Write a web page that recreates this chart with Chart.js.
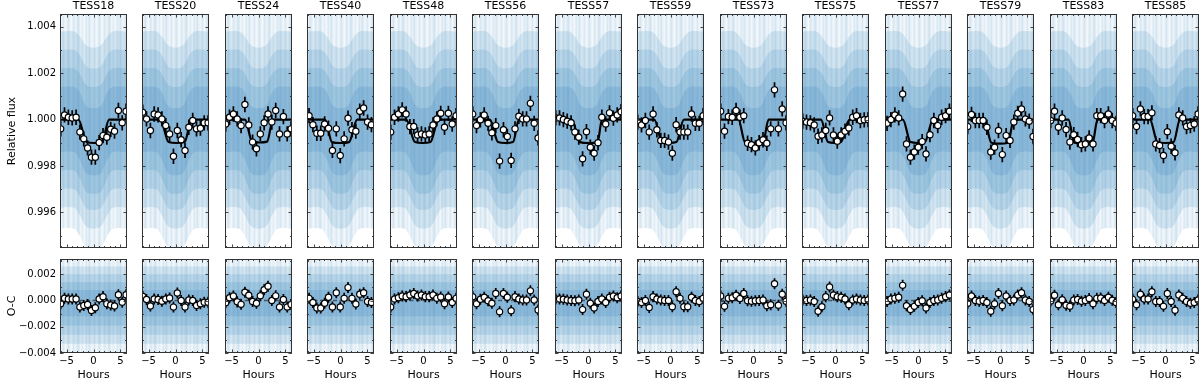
<!DOCTYPE html>
<html>
<head>
<meta charset="utf-8">
<script src="https://cdn.jsdelivr.net/npm/chart.js@4.4.1/dist/chart.umd.min.js"></script>
<style>
html, body { margin: 0; padding: 0; background: #fff; }
#wrap { position: relative; width: 1200px; height: 381px; overflow: hidden; }
#wrap canvas { position: absolute; }
</style>
</head>
<body>
<div id="wrap"></div>
<script>
// bin centres in hours from mid-transit (most sectors have 18 bins, two have 17)
var binHours18 = [-6.1, -5.39, -4.67, -3.96, -3.24, -2.53, -1.81, -1.1, -0.38, 0.34, 1.05, 1.77, 2.48, 3.2, 3.91, 4.63, 5.34, 6.06];
var binHours17 = [-5.85, -5.13, -4.4, -3.68, -2.95, -2.23, -1.5, -0.78, -0.05, 0.68, 1.4, 2.13, 2.85, 3.58, 4.3, 5.03, 5.75];

// binned relative flux, in parts per thousand away from 1.000
var fluxTESS18 = [-0.40, 0.20, 0.10, 0.07, 0.10, -0.54, -0.83, -1.22, -1.62, -1.62, -0.99, -0.69, -0.76, -0.42, -0.50, 0.39, -0.14, 0.36];
var fluxTESS20 = [0.32, 0.03, -0.47, 0.24, 0.20, 0.03, -0.26, -0.62, -1.58, -0.47, -0.87, -1.33, -0.33, -0.04, -0.40, -0.37, -0.14, -0.14];
var fluxTESS24 = [-0.19, 0.10, 0.24, 0.03, -0.26, 0.65, -0.23, -0.97, -1.26, -0.62, -0.14, 0.24, -0.11, 0.39, -0.62, 0.13, -0.62, -0.40];
var fluxTESS40 = [0.17, -0.22, -0.59, -0.59, -0.19, -0.37, -1.33, -0.40, -1.55, -0.83, 0.06, -0.44, -0.50, 0.36, 0.50, -0.11, -0.22];
var fluxTESS48 = [-0.54, 0.10, 0.24, 0.42, 0.24, -0.30, -0.30, -0.66, -0.62, -0.66, -0.62, -0.23, 0.03, 0.27, -0.33, 0.27, -0.19, 0.17];
var fluxTESS56 = [0.24, -0.26, -0.01, 0.20, -0.16, -0.57, -0.26, -1.79, -0.44, -0.73, -1.76, -0.40, 0.14, 0.03, 0.03, 0.70, -0.16, -0.79];
var fluxTESS57 = [0.07, 0.07, 0.00, -0.07, -0.14, -0.54, -0.76, -1.69, -0.52, -1.19, -1.45, -1.00, 0.10, -0.19, 0.29, 0.06, 0.20, 0.34];
var fluxTESS59 = [-0.11, -0.23, -0.04, -0.54, 0.24, -0.44, -0.90, -0.90, -0.97, -1.45, -0.22, -0.54, -0.54, -0.54, 0.24, -0.16, -0.16, 0.17];
var fluxTESS73 = [0.36, -0.50, 0.13, 0.10, 0.39, 0.10, 0.17, -1.02, -1.08, -1.22, -1.00, -0.87, -1.02, -0.40, 1.28, -0.40, 0.46, -0.14];
var fluxTESS75 = [-0.07, -0.11, -0.14, -0.23, -0.72, -0.66, -0.47, 0.07, -0.66, -0.93, -0.66, -0.50, -0.36, 0.10, 0.17, -0.04, -0.01, 0.00];
var fluxTESS77 = [-0.16, 0.00, 0.20, 0.07, 1.10, -1.05, -1.62, -1.40, -1.19, -0.95, -1.48, -0.65, -0.04, -0.26, 0.10, 0.17, 0.36];
var fluxTESS79 = [-0.30, 0.22, -0.04, -0.04, -0.04, -0.33, -1.40, -1.19, -0.47, -1.51, -0.69, -0.90, -0.11, 0.27, 0.46, 0.03, -0.07, -0.73];
var fluxTESS83 = [-0.04, 0.36, -0.33, 0.07, -0.43, -0.97, -0.65, -0.86, -1.08, -1.05, -0.79, -1.05, 0.17, 0.17, -0.04, 0.24, -0.04, -0.16];
var fluxTESS85 = [0.17, -0.30, 0.46, 0.13, 0.13, 0.29, -1.05, -1.12, -1.55, -0.52, -1.15, -1.43, 0.20, 0.07, -0.30, -0.26, -0.19, 0.24];

// binned residuals (O-C), parts per thousand
var residTESS18 = [-0.25, 0.18, 0.12, 0.12, 0.12, -0.50, -0.37, -0.30, -0.75, -0.55, 0.12, 0.30, -0.25, -0.33, -0.42, 0.45, -0.12, 0.45];
var residTESS20 = [0.33, 0.08, -0.42, 0.12, 0.08, -0.05, 0.12, 0.20, -0.50, 0.58, 0.00, -0.50, 0.05, 0.00, -0.37, -0.25, -0.12, -0.12];
var residTESS24 = [-0.17, 0.21, 0.35, -0.10, -0.29, 0.63, 0.40, -0.07, -0.20, 0.36, 0.82, 1.10, 0.00, 0.36, -0.50, 0.08, -0.50, -0.30];
var residTESS40 = [0.17, -0.15, -0.57, -0.57, -0.20, 0.25, -0.49, 0.59, -0.49, 0.17, 0.99, 0.17, -0.27, 0.49, 0.59, -0.07, -0.15];
var residTESS48 = [-0.49, 0.12, 0.22, 0.35, 0.30, 0.42, 0.54, 0.35, 0.42, 0.30, 0.30, 0.42, 0.17, 0.27, -0.25, 0.27, -0.15, 0.17];
var residTESS56 = [0.30, -0.25, 0.10, 0.25, -0.02, -0.20, 0.54, -0.86, 0.54, 0.25, -0.77, 0.30, 0.12, 0.05, 0.05, 0.74, 0.05, -0.72];
var residTESS57 = [0.12, 0.12, 0.10, 0.05, 0.00, -0.02, 0.05, -0.69, 0.49, -0.20, -0.57, -0.07, 0.12, -0.15, 0.25, 0.35, 0.22, 0.35];
var residTESS59 = [-0.07, -0.15, 0.00, -0.52, 0.30, 0.12, 0.05, 0.00, 0.00, -0.47, 0.67, 0.17, -0.47, -0.47, 0.25, 0.00, -0.07, 0.17];
var residTESS73 = [0.35, -0.44, 0.17, 0.22, 0.40, 0.15, 0.54, -0.02, -0.05, -0.02, 0.00, 0.05, -0.40, -0.32, 1.28, -0.35, 0.49, -0.05];
var residTESS75 = [0.05, 0.00, 0.05, -0.07, -0.81, -0.47, 0.30, 1.04, 0.42, 0.30, 0.25, 0.12, -0.32, 0.05, 0.12, 0.05, 0.00, 0.05];
var residTESS77 = [-0.07, 0.12, 0.17, 0.25, 1.16, -0.40, -0.69, -0.44, -0.15, -0.02, -0.57, -0.15, 0.00, 0.05, 0.17, 0.30, 0.42];
var residTESS79 = [-0.20, 0.35, 0.00, -0.05, 0.00, -0.15, -0.81, -0.25, 0.54, -0.40, 0.35, 0.00, 0.05, 0.42, 0.60, 0.05, -0.07, -0.69];
var residTESS83 = [-0.04, 0.40, -0.32, 0.06, -0.36, -0.44, 0.05, 0.08, -0.05, 0.00, 0.15, -0.25, 0.17, 0.20, 0.00, 0.25, 0.02, -0.14];
var residTESS85 = [0.10, -0.32, 0.49, 0.12, 0.12, 0.67, -0.07, -0.07, -0.44, 0.54, -0.07, -0.74, 0.42, 0.17, -0.07, -0.20, -0.15, 0.05];

// transit model: [first contact, second, third, fourth (hours), depth (ppt)]
var modelTESS18 = [-2.8, -1.3, 1.6, 2.9, 0.97];
var modelTESS20 = [-2.8, -1.3, 1.7, 3.0, 0.97];
var modelTESS24 = [-2.5, -1.2, 1.6, 2.7, 0.95];
var modelTESS40 = [-2.9, -1.6, 1.6, 3.1, 0.97];
var modelTESS48 = [-3.2, -1.6, 1.3, 2.8, 0.97];
var modelTESS56 = [-2.9, -1.4, 1.4, 2.5, 0.97];
var modelTESS57 = [-3.1, -1.6, 1.7, 2.5, 0.97];
var modelTESS59 = [-3.0, -1.6, 1.1, 2.5, 0.97];
var modelTESS73 = [-2.8, -1.6, 1.8, 2.8, 0.97];
var modelTESS75 = [-2.7, -1.4, 1.0, 2.6, 0.97];
var modelTESS77 = [-2.9, -1.5, 1.2, 2.7, 0.97];
var modelTESS79 = [-3.0, -1.7, 1.4, 2.5, 1.00];
var modelTESS83 = [-2.8, -1.7, 1.7, 2.6, 1.00];
var modelTESS85 = [-2.9, -1.5, 1.5, 2.7, 0.97];

// error bar half-lengths (ppt)
var fluxErr = 0.33;
var residErr = 0.42;

// nested envelopes of the unbinned points (ppt), same for every sector
var cloudHours = [-6.23, -3.6, -2.6, -1.4, 0, 1.4, 2.6, 3.6, 6.23];
var fluxBandHi = [
    [4.6, 4.6, 4.6, 4.6, 4.6, 4.6, 4.6, 4.6, 4.6],
    [3.8, 3.8, 3.6, 3.2, 3.1, 3.2, 3.6, 3.8, 3.8],
    [3.0, 3.0, 2.8, 2.3, 2.2, 2.3, 2.8, 3.0, 3.0],
    [2.2, 2.2, 2.0, 1.5, 1.4, 1.5, 2.0, 2.2, 2.2],
    [1.4, 1.4, 1.2, 0.6, 0.5, 0.6, 1.2, 1.4, 1.4]
];
var fluxBandLo = [
    [-4.7, -4.7, -5.0, -5.5, -5.6, -5.5, -5.0, -4.7, -4.7],
    [-3.8, -3.8, -4.1, -4.6, -4.7, -4.6, -4.1, -3.8, -3.8],
    [-3.0, -3.0, -3.3, -3.8, -3.9, -3.8, -3.3, -3.0, -3.0],
    [-2.2, -2.2, -2.5, -3.1, -3.2, -3.1, -2.5, -2.2, -2.2],
    [-1.4, -1.4, -1.7, -2.3, -2.4, -2.3, -1.7, -1.4, -1.4]
];
var residBandHi = [3.2, 2.6, 2.0, 1.4, 0.8];
var residBandLo = [-4.0, -3.3, -2.6, -1.9, -1.2];
var bandAlpha = [0.13, 0.14, 0.15, 0.16, 0.16];

// column opacities for the soft streaks of the single exposures' error bars
var streakA = [0.12, 0.16, 0.10, 0.06, 0.09, 0.15, 0.19, 0.13, 0.08, 0.05, 0.11, 0.17, 0.14, 0.09, 0.12, 0.18, 0.20, 0.14,
               0.07, 0.10, 0.13, 0.08, 0.06, 0.12, 0.16, 0.11, 0.15, 0.19, 0.12, 0.09, 0.07];

// ticks
var hourTicks = [-6, -5, -4, -3, -2, -1, 0, 1, 2, 3, 4, 5, 6];
var hourLabels = [-5, 0, 5];
var fluxTicks = [-5, -4, -3, -2, -1, 0, 1, 2, 3, 4];
var fluxLabels = [-4, -2, 0, 2, 4];
var residTicks = [-4, -3, -2, -1, 0, 1, 2, 3];
var residLabels = [-4, -2, 0, 2];

var sectors = [
    ["TESS18", fluxTESS18, residTESS18, modelTESS18],
    ["TESS20", fluxTESS20, residTESS20, modelTESS20],
    ["TESS24", fluxTESS24, residTESS24, modelTESS24],
    ["TESS40", fluxTESS40, residTESS40, modelTESS40],
    ["TESS48", fluxTESS48, residTESS48, modelTESS48],
    ["TESS56", fluxTESS56, residTESS56, modelTESS56],
    ["TESS57", fluxTESS57, residTESS57, modelTESS57],
    ["TESS59", fluxTESS59, residTESS59, modelTESS59],
    ["TESS73", fluxTESS73, residTESS73, modelTESS73],
    ["TESS75", fluxTESS75, residTESS75, modelTESS75],
    ["TESS77", fluxTESS77, residTESS77, modelTESS77],
    ["TESS79", fluxTESS79, residTESS79, modelTESS79],
    ["TESS83", fluxTESS83, residTESS83, modelTESS83],
    ["TESS85", fluxTESS85, residTESS85, modelTESS85]
];

var xMin = -6.23, xMax = 6.23;
var panelLeft = [60, 142, 225, 307, 390, 472, 555, 637, 720, 802, 885, 967, 1050, 1132];
var panelW = 67;
Chart.defaults.font.family = "'DejaVu Sans', sans-serif";
Chart.defaults.color = '#000';

function blue(a) { return 'rgba(31,119,180,' + a + ')'; }
function minus(s) { return String(s).replace('-', '\u2212'); }
function noPad(sc) { sc.paddingTop = 0; sc.paddingBottom = 0; sc.paddingLeft = 0; sc.paddingRight = 0; }

function stripes(alphas) {
    var c = document.createElement('canvas');
    c.width = alphas.length; c.height = 4;
    var g = c.getContext('2d');
    alphas.forEach(function(a, k) { g.fillStyle = blue(a); g.fillRect(k, 0, 1, 4); });
    return g.createPattern(c, 'repeat');
}
var patA = stripes(streakA);

// frame + inward ticks on all four sides, like matplotlib direction='in'
var boxTicks = {
    id: 'boxTicks',
    afterDatasetsDraw: function(chart, args, o) {
        var a = chart.chartArea, ctx = chart.ctx;
        var xs = chart.scales.x, ys = chart.scales.y;
        ctx.save();
        ctx.strokeStyle = '#333';
        ctx.lineWidth = 0.9;
        ctx.beginPath();
        o.yTicks.forEach(function(v) {
            var y = Math.round(ys.getPixelForValue(v)) + 0.5;
            var len = o.yMajor.indexOf(v) >= 0 ? 3.5 : 2;
            ctx.moveTo(a.left, y); ctx.lineTo(a.left + len, y);
            ctx.moveTo(a.right, y); ctx.lineTo(a.right - len, y);
        });
        hourTicks.forEach(function(v) {
            var x = Math.round(xs.getPixelForValue(v)) + 0.5;
            var len = hourLabels.indexOf(v) >= 0 ? 3.5 : 2;
            ctx.moveTo(x, a.top); ctx.lineTo(x, a.top + len);
            ctx.moveTo(x, a.bottom); ctx.lineTo(x, a.bottom - len);
        });
        ctx.stroke();
        ctx.lineWidth = 1;
        ctx.strokeRect(a.left + 0.5, a.top + 0.5, a.right - a.left - 1, a.bottom - a.top - 1);
        ctx.restore();
    }
};
Chart.register(boxTicks);

var wrap = document.getElementById('wrap');
function addCanvas(left, top, w, h) {
    var c = document.createElement('canvas');
    c.width = w; c.height = h;
    c.style.left = left + 'px'; c.style.top = top + 'px';
    c.style.width = w + 'px'; c.style.height = h + 'px';
    wrap.appendChild(c);
    return c;
}

function pts(xArr, yArr) {
    return xArr.map(function(x, k) { return {x: x, y: yArr[k]}; });
}

function bandSets(hi, lo, fillStyle) {
    return [
        {type: 'line', data: pts(cloudHours, hi), fill: '+1', backgroundColor: fillStyle,
         borderColor: 'rgba(0,0,0,0)', borderWidth: 0, pointRadius: 0, tension: 0.35, order: 20},
        {type: 'line', data: pts(cloudHours, lo), fill: false,
         borderColor: 'rgba(0,0,0,0)', borderWidth: 0, pointRadius: 0, tension: 0.35, order: 20}
    ];
}

function bandFill(b) {
    return b === 0 ? patA : blue(bandAlpha[b]);
}

function flat(v) { return cloudHours.map(function() { return v; }); }

function errSet(xArr, yArr, e) {
    var d = [];
    xArr.forEach(function(x, k) {
        d.push({x: x, y: yArr[k] - e}, {x: x, y: yArr[k] + e}, {x: x, y: null});
    });
    return {type: 'line', data: d, borderColor: '#000', borderWidth: 1.7, pointRadius: 0,
            spanGaps: false, borderCapStyle: 'butt', order: 3};
}

function pointSet(xArr, yArr) {
    return {type: 'line', data: pts(xArr, yArr), showLine: false, pointRadius: 3.1,
            pointBorderWidth: 1.2, pointBackgroundColor: '#fff', pointBorderColor: '#000', order: 1};
}

function modelSet(m) {
    var mid = (m[1] + m[2]) / 2;
    var d = [{x: xMin, y: 0}, {x: m[0], y: 0}, {x: m[1], y: -m[4]}, {x: mid, y: -m[4] * 1.04},
             {x: m[2], y: -m[4]}, {x: m[3], y: 0}, {x: xMax, y: 0}];
    return {type: 'line', data: d, borderColor: '#000', borderWidth: 2.2, pointRadius: 0,
            cubicInterpolationMode: 'monotone', order: 5};
}

function makePanel(i) {
    var s = sectors[i];
    var name = s[0], flux = s[1], resid = s[2], model = s[3];
    var xs = flux.length === 18 ? binHours18 : binHours17;
    var first = i === 0;
    var padL = first ? 60 : 3;

    // upper panel: relative flux
    var yTop = {
        type: 'linear', min: -5.535, max: 4.55, display: first,
        afterBuildTicks: function(sc) { sc.ticks = fluxLabels.map(function(v) { return {value: v}; }); },
        ticks: {callback: function(v) { return (1 + v / 1000).toFixed(3); }, font: {size: 10}, padding: 4, color: '#000'},
        grid: {display: false, drawTicks: false},
        border: {display: false},
        title: {display: true, text: 'Relative flux', font: {size: 11}, color: '#000', padding: {top: 6, bottom: 0}}
    };
    if (first) yTop.afterFit = function(sc) { sc.width = 60; noPad(sc); };

    var topSets = [];
    for (var b = 0; b < fluxBandHi.length; b++) {
        topSets = topSets.concat(bandSets(fluxBandHi[b], fluxBandLo[b], bandFill(b)));
    }
    topSets.push(modelSet(model), errSet(xs, flux, fluxErr), pointSet(xs, flux));

    new Chart(addCanvas(panelLeft[i] - padL, 0, padL + panelW + 3, 252), {
        type: 'line',
        data: {datasets: topSets},
        options: {
            responsive: false, animation: false, events: [],
            layout: {autoPadding: false, padding: {left: first ? 0 : 3, right: 3, top: 0, bottom: 4}},
            plugins: {legend: {display: false}, tooltip: {enabled: false}, filler: {drawTime: 'beforeDatasetsDraw'},
                      boxTicks: {yTicks: fluxTicks, yMajor: fluxLabels}},
            scales: {
                x: {
                    type: 'linear', position: 'top', min: xMin, max: xMax,
                    afterFit: function(sc) { sc.height = 14; noPad(sc); },
                    afterBuildTicks: function(sc) { sc.ticks = hourLabels.map(function(v) { return {value: v}; }); },
                    ticks: {display: false},
                    grid: {display: false, drawTicks: false},
                    border: {display: false},
                    title: {display: true, text: name, font: {size: 11, lineHeight: 1.1}, color: '#000', padding: {top: 0, bottom: 0}}
                },
                y: yTop
            }
        }
    });

    // lower panel: O-C
    var yBot = {
        type: 'linear', min: -4.0, max: 3.17, display: first,
        afterBuildTicks: function(sc) { sc.ticks = residLabels.map(function(v) { return {value: v}; }); },
        ticks: {callback: function(v) { return minus((v / 1000).toFixed(3)); }, font: {size: 10}, padding: 4, color: '#000'},
        grid: {display: false, drawTicks: false},
        border: {display: false},
        title: {display: true, text: 'O-C', font: {size: 11}, color: '#000', padding: {top: 6, bottom: 0}}
    };
    if (first) yBot.afterFit = function(sc) { sc.width = 60; noPad(sc); };

    var botSets = [];
    for (var r = 0; r < residBandHi.length; r++) {
        botSets = botSets.concat(bandSets(flat(residBandHi[r]), flat(residBandLo[r]), bandFill(r)));
    }
    botSets.push(
        {type: 'line', data: [{x: xMin, y: 0}, {x: xMax, y: 0}], borderColor: 'rgba(50,50,50,0.7)',
         borderWidth: 1.5, borderDash: [4, 2.5], pointRadius: 0, order: 6},
        errSet(xs, resid, residErr), pointSet(xs, resid)
    );

    new Chart(addCanvas(panelLeft[i] - padL, 254, padL + panelW + 3, 127), {
        type: 'line',
        data: {datasets: botSets},
        options: {
            responsive: false, animation: false, events: [],
            layout: {autoPadding: false, padding: {left: first ? 0 : 3, right: 3, top: 5, bottom: 0}},
            plugins: {legend: {display: false}, tooltip: {enabled: false}, filler: {drawTime: 'beforeDatasetsDraw'},
                      boxTicks: {yTicks: residTicks, yMajor: residLabels}},
            scales: {
                x: {
                    type: 'linear', position: 'bottom', min: xMin, max: xMax,
                    afterFit: function(sc) { sc.height = 28; noPad(sc); },
                    afterBuildTicks: function(sc) { sc.ticks = hourLabels.map(function(v) { return {value: v}; }); },
                    ticks: {callback: function(v) { return minus(v); }, font: {size: 10}, padding: 2, color: '#000', maxRotation: 0},
                    grid: {display: false, drawTicks: false},
                    border: {display: false},
                    title: {display: true, text: 'Hours', font: {size: 11, lineHeight: 1.0}, color: '#000', padding: {top: 0, bottom: 0}}
                },
                y: yBot
            }
        }
    });
}

for (var i = 0; i < sectors.length; i++) makePanel(i);
</script>
</body>
</html>
